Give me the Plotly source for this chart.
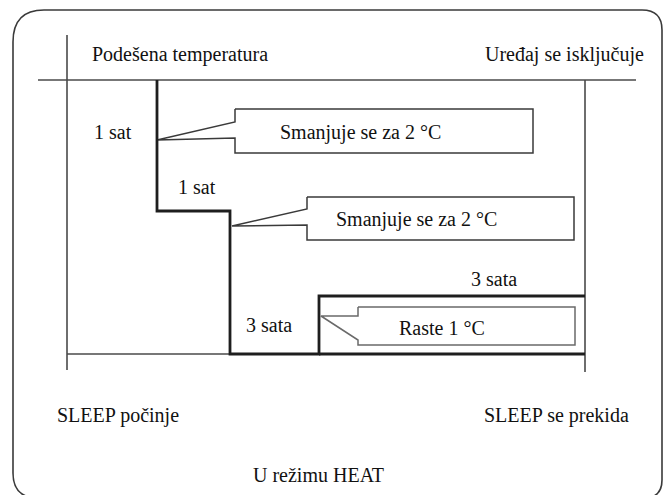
import plotly.graph_objects as go

# ---- diagram content (labels) ----
header_left = "Podešena temperatura"
header_right = "Uređaj se isključuje"
footer_left = "SLEEP počinje"
footer_right = "SLEEP se prekida"
footer_mode = "U režimu HEAT"
step_labels = ["1 sat", "1 sat", "3 sata", "3 sata"]
callout_texts = ["Smanjuje se za 2 °C", "Smanjuje se za 2 °C", "Raste 1 °C"]

# ---- diagram geometry (canvas units, y grows downward) ----
W, H = 663, 495
frame_x = [67, 67, None, 38, 636, None, 585, 585, None, 67, 585]
frame_y = [35, 370, None, 80, 80, None, 80, 372, None, 354, 354]
step_x = [157, 157, 230, 230, 319, 319, 585, None, 319, 585]
step_y = [80, 211, 211, 354, 354, 296, 296, None, 354, 354]
callout_x = [
    [235, 533, 533, 235, 235, 157, 235, 235],
    [307, 574, 574, 307, 307, 232, 307, 307],
    [358, 575, 575, 358, 358, 321, 358, 358],
]
callout_y = [
    [109, 109, 153, 153, 138, 140, 122, 109],
    [197, 197, 240, 240, 225, 226, 209, 197],
    [307, 307, 345, 345, 340, 316, 316, 307],
]
callout_colors = ["#3a3a3a", "#3a3a3a", "#6a6a6a"]
callout_text_xy = [(360, 132), (416, 219), (442, 328)]
step_label_xy = [(113, 132), (197, 187), (494, 279), (269, 325)]

fig = go.Figure()

fig.add_trace(go.Scatter(x=frame_x, y=frame_y, mode="lines",
                         line=dict(color="#4a4a4a", width=1.6),
                         hoverinfo="skip", showlegend=False))
for cx, cy, cc in zip(callout_x, callout_y, callout_colors):
    fig.add_trace(go.Scatter(x=cx, y=cy, mode="lines",
                             line=dict(color=cc, width=1.5),
                             hoverinfo="skip", showlegend=False))
fig.add_trace(go.Scatter(x=step_x, y=step_y, mode="lines", connectgaps=False,
                         line=dict(color="#1e1e1e", width=2.8),
                         hoverinfo="skip", showlegend=False))

# rounded outer border
border_path = ("M 44,10 L 642,10 Q 662,10 662,30 L 662,480 Q 662,498 644,498 "
               "L 38,498 Q 13,498 13,473 L 13,42 Q 13,10 44,10 Z")
fig.add_shape(type="path", path=border_path, xref="x", yref="y",
              line=dict(color="#3a3a3a", width=1.6), layer="below")

ann = []
ann.append(dict(x=90, y=54, text=header_left, xanchor="left", yanchor="middle"))
ann.append(dict(x=646, y=54, text=header_right, xanchor="right", yanchor="middle"))
ann.append(dict(x=55, y=415, text=footer_left, xanchor="left", yanchor="middle"))
ann.append(dict(x=631, y=415, text=footer_right, xanchor="right", yanchor="middle"))
ann.append(dict(x=318, y=475, text=footer_mode, xanchor="center", yanchor="middle"))
for t, (x, y) in zip(step_labels, step_label_xy):
    ann.append(dict(x=x, y=y, text=t, xanchor="center", yanchor="middle"))
for t, (x, y) in zip(callout_texts, callout_text_xy):
    ann.append(dict(x=x, y=y, text=t, xanchor="center", yanchor="middle"))
for a in ann:
    a.update(xref="x", yref="y", showarrow=False,
             font=dict(family="Liberation Serif", size=20, color="#111111"))

fig.update_layout(
    width=W, height=H,
    margin=dict(l=0, r=0, t=0, b=0),
    paper_bgcolor="white", plot_bgcolor="white",
    font=dict(family="Liberation Serif", size=20, color="#111111"),
    xaxis=dict(range=[0, W], visible=False, fixedrange=True),
    yaxis=dict(range=[H, 0], visible=False, fixedrange=True),
    annotations=ann,
    showlegend=False,
)

fig.write_html(
    "out.html",
    config={"displayModeBar": False},
    post_script="document.body.style.margin='0';document.body.style.overflow='hidden';",
)
